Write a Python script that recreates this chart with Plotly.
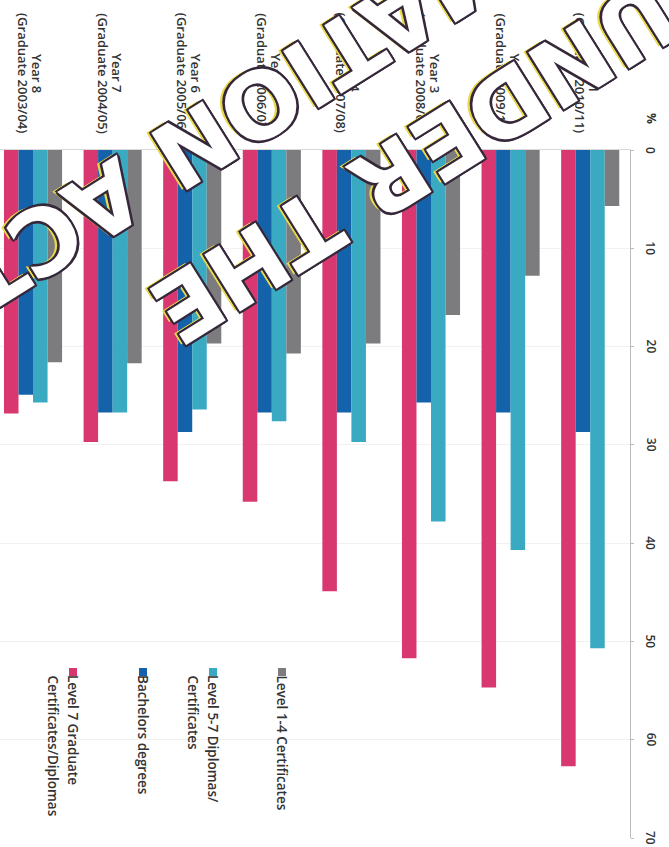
import plotly.graph_objects as go

# ---------------- data ----------------
years = ["Year 8", "Year 7", "Year 6", "Year 5", "Year 4", "Year 3", "Year 2", "Year 1"]
grad_labels = ["(Graduate 2003/04)", "(Graduate 2004/05)", "(Graduate 2005/06)", "(Graduate 2006/07)",
               "(Graduate 2007/08)", "(Graduate 2008/09)", "(Graduate 2009/10)", "(Graduate 2010/11)"]
level7_grad = [26.8, 29.7, 33.7, 35.8, 44.9, 51.7, 54.7, 62.7]
bachelors = [24.9, 26.7, 28.7, 26.7, 26.7, 25.7, 26.7, 28.7]
level57 = [25.7, 26.7, 26.4, 27.6, 29.7, 37.8, 40.7, 50.7]
level14 = [21.6, 21.7, 19.7, 20.7, 19.7, 16.8, 12.8, 5.7]
series_names = ["Level 7 Graduate Certificates/Diplomas", "Bachelors degrees",
                "Level 5-7 Diplomas/Certificates", "Level 1-4 Certificates"]
series_values = [level7_grad, bachelors, level57, level14]
colors = ["#d8386f", "#1462aa", "#3aa9c2", "#7c7c7e"]
value_ticks = [0, 10, 20, 30, 40, 50, 60, 70]

# ---------------- geometry helpers ----------------
W, H = 669, 847
ML, MR, MT, MB = 0, 39, 150, 9
PW, PH = W - ML - MR, H - MT - MB


def px(x):
    return (x - ML) / PW


def py(y):
    return (H - MB - y) / PH


TXT = "#333333"
FONT = "Open Sans"

fig = go.Figure()
for name, vals, col in zip(series_names, series_values, colors):
    fig.add_trace(go.Bar(x=years, y=vals, name=name, marker=dict(color=col, line=dict(width=0)),
                         showlegend=False))

annotations = []
# category labels (rotated chart), two lines centred on each other
for yr, gl in zip(years, grad_labels):
    for txt, shift in ((yr, 4), (gl, -10)):
        annotations.append(dict(x=yr, xref="x", y=py(73), yref="paper", xanchor="center", yanchor="middle",
                                xshift=shift, text=txt, textangle=90, showarrow=False,
                                font=dict(family=FONT, size=13, color=TXT, weight=600)))
# value axis labels (rotated)
for v in value_ticks:
    annotations.append(dict(x=px(651), xref="paper", y=v, yref="y", xanchor="center", yanchor="middle",
                            text=str(v), textangle=90, showarrow=False,
                            font=dict(family=FONT, size=12, color=TXT, weight=600)))
# percent sign
annotations.append(dict(x=px(651), y=py(118), xref="paper", yref="paper", xanchor="center", yanchor="middle",
                        text="%", textangle=90, showarrow=False,
                        font=dict(family=FONT, size=12, color=TXT, weight=700)))

# legend (rotated)
legend_items = [
    (282, ["Level 1-4 Certificates"], colors[3]),
    (213, ["Level 5-7 Diplomas/", "Certificates"], colors[2]),
    (143, ["Bachelors degrees"], colors[1]),
    (73, ["Level 7 Graduate", "Certificates/Diplomas"], colors[0]),
]
shapes = []
for xc, lines, col in legend_items:
    shapes.append(dict(type="rect", xref="paper", yref="paper", x0=px(xc - 4), x1=px(xc + 4),
                       y0=py(676), y1=py(668), fillcolor=col, line=dict(width=0)))
    for i, ln in enumerate(lines):
        annotations.append(dict(x=px(xc - 20 * i), y=py(673), xref="paper", yref="paper",
                                xanchor="center", yanchor="top", text=ln, textangle=90, showarrow=False,
                                font=dict(family=FONT, size=13.5, color=TXT, weight=600)))

# stamp watermark
ink = "#35283a"
stamp_font = dict(family="DejaVu Sans", size=92, color="white", weight=700,
                  shadow=f"2px 2px 0 {ink}, -2px -2px 0 {ink}, 2px -2px 0 {ink}, -2px 2px 0 {ink}, "
                         f"0 2px 0 {ink}, 0 -2px 0 {ink}, 2px 0 0 {ink}, -2px 0 0 {ink}, "
                         "4px 3px 0 #e9d94a")
annotations.append(dict(x=px(653), y=py(12), xref="paper", yref="paper", text="RELEASED UNDER THE",
                        xanchor="center", yanchor="middle",
                        textangle=148, showarrow=False, font=stamp_font))
annotations.append(dict(x=px(585), y=py(-100), xref="paper", yref="paper", text="OFFICIAL INFORMATION ACT",
                        xanchor="center", yanchor="middle",
                        textangle=148, showarrow=False, font=stamp_font))

fig.update_layout(
    width=W, height=H,
    margin=dict(l=ML, r=MR, t=MT, b=MB, pad=0),
    paper_bgcolor="white", plot_bgcolor="white",
    barmode="group", bargap=0.27, bargroupgap=0.0,
    showlegend=False,
    xaxis=dict(type="category", categoryorder="array", categoryarray=years, range=[-0.415, 7.5],
               side="top", showticklabels=False, ticks="", showgrid=False, zeroline=False,
               showline=True, linecolor="#d9d9d9", linewidth=1),
    yaxis=dict(range=[70, 0], side="right", tickvals=value_ticks, showticklabels=False,
               ticks="outside", ticklen=3, tickcolor="#bbbbbb",
               showline=True, linecolor="#bbbbbb", linewidth=1,
               showgrid=True, gridcolor="#f1f1f1", zeroline=False),
    annotations=annotations, shapes=shapes,
)

fig.write_html("out.html", config={"displayModeBar": False},
               post_script="document.body.style.margin='0px'; document.body.style.overflow='hidden';")
